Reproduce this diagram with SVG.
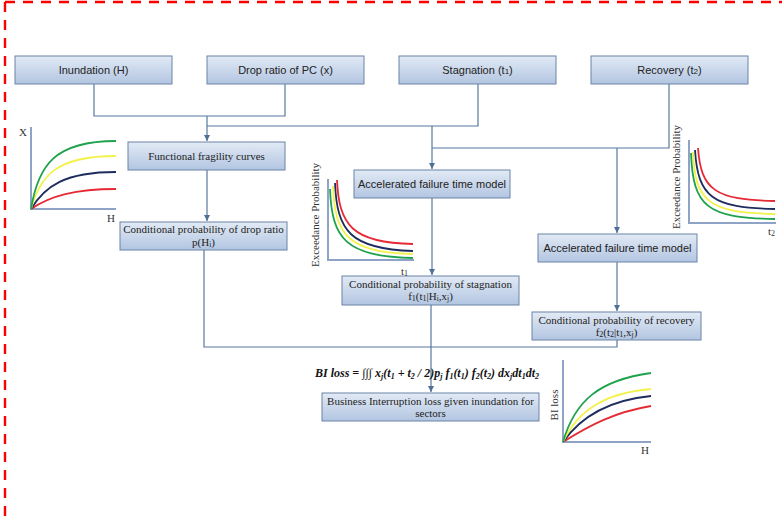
<svg xmlns="http://www.w3.org/2000/svg" width="782" height="524" viewBox="0 0 782 524">
<defs>
<linearGradient id="boxfill" x1="0" y1="0" x2="0" y2="1">
<stop offset="0" stop-color="#e2eaf5"/>
<stop offset="1" stop-color="#b2c5e1"/>
</linearGradient>
<marker id="arr" markerUnits="userSpaceOnUse" markerWidth="7" markerHeight="7" refX="6" refY="3" orient="auto">
<path d="M0,0 L6,3 L0,6 z" fill="#4f6f96"/>
</marker>
<style>
.box{fill:url(#boxfill);stroke:#6a84a6;stroke-width:1}
.sans{font-family:"Liberation Sans",Arial,sans-serif;font-size:11px;fill:#222;text-anchor:middle}
.serif{font-family:"Liberation Serif","Times New Roman",serif;font-size:11px;fill:#222;text-anchor:middle}
.conn{fill:none;stroke:#5878a0;stroke-width:1.2}
.axis{fill:none;stroke:#8ea3c6;stroke-width:2}
.cv{fill:none;stroke-width:1.8}
.g{stroke:#1fa24c}.y{stroke:#f2f24a}.n{stroke:#1e2c5e}.r{stroke:#e52a35}
.lbl{font-family:"Liberation Serif","Times New Roman",serif;font-size:11px;fill:#333}
</style>
</defs>
<rect width="782" height="524" fill="#fff"/>
<path d="M5,2 H782 M5,2 V522" fill="none" stroke="#ff0000" stroke-width="2.4" stroke-dasharray="10,8"/>

<g id="connectors">
<path class="conn" d="M94,84 V116 H207"/>
<path class="conn" d="M285,84 V116 H207"/>
<path class="conn" d="M207,116 V141" marker-end="url(#arr)"/>
<path class="conn" d="M478,84 V126 H207"/>
<path class="conn" d="M432,126 V169" marker-end="url(#arr)"/>
<path class="conn" d="M669,84 V148 H432"/>
<path class="conn" d="M617,148 V233" marker-end="url(#arr)"/>
<path class="conn" d="M207,170 V221" marker-end="url(#arr)"/>
<path class="conn" d="M432,198 V275" marker-end="url(#arr)"/>
<path class="conn" d="M617,262 V311" marker-end="url(#arr)"/>
<path class="conn" d="M204,250 V347 H617 V340"/>
<path class="conn" d="M431,305 V392" marker-end="url(#arr)"/>
</g>

<g id="inundation">
<rect class="box" x="15" y="56" width="157" height="28"/>
<text class="sans" x="93.5" y="74">Inundation (H)</text>
</g>
<g id="drop-ratio">
<rect class="box" x="207" y="56" width="157" height="28"/>
<text class="sans" x="285.5" y="74">Drop ratio of PC (x)</text>
</g>
<g id="stagnation">
<rect class="box" x="399" y="56" width="157" height="28"/>
<text class="sans" x="477.5" y="74">Stagnation (t<tspan font-size="8">1</tspan>)</text>
</g>
<g id="recovery">
<rect class="box" x="591" y="56" width="157" height="28"/>
<text class="sans" x="669.5" y="74">Recovery (t<tspan font-size="8">2</tspan>)</text>
</g>

<g id="functional-fragility">
<rect class="box" x="128" y="142" width="157" height="28"/>
<text class="serif" x="206.5" y="160">Functional fragility curves</text>
</g>
<g id="aft1">
<rect class="box" x="354" y="170" width="156" height="28"/>
<text class="sans" x="432" y="188" font-size="10.5">Accelerated failure time model</text>
</g>
<g id="aft2">
<rect class="box" x="538" y="234" width="159" height="28"/>
<text class="sans" x="617.5" y="252" font-size="10.5">Accelerated failure time model</text>
</g>
<g id="cond-drop">
<rect class="box" x="120" y="222" width="167" height="28"/>
<text class="serif" x="203.5" y="233">Conditional probability of drop ratio</text>
<text class="serif" x="203.5" y="246">p(H<tspan font-size="7.5" dy="1">i</tspan><tspan dy="-1">)</tspan></text>
</g>
<g id="cond-stagnation">
<rect class="box" x="342" y="276" width="177" height="29"/>
<text class="serif" x="430.5" y="288">Conditional probability of stagnation</text>
<text class="serif" x="430.5" y="300">f<tspan font-size="8" dy="1">1</tspan><tspan dy="-1">(t</tspan><tspan font-size="8" dy="1">1</tspan><tspan dy="-1">|H</tspan><tspan font-size="7.5" dy="1">i</tspan><tspan dy="-1">,x</tspan><tspan font-size="7.5" dy="1">j</tspan><tspan dy="-1">)</tspan></text>
</g>
<g id="cond-recovery">
<rect class="box" x="532" y="312" width="169" height="28"/>
<text class="serif" x="616.5" y="324">Conditional probability of recovery</text>
<text class="serif" x="616.5" y="336">f<tspan font-size="8" dy="1">2</tspan><tspan dy="-1">(t</tspan><tspan font-size="8" dy="1">2</tspan><tspan dy="-1">|t</tspan><tspan font-size="8" dy="1">1</tspan><tspan dy="-1">,x</tspan><tspan font-size="7.5" dy="1">j</tspan><tspan dy="-1">)</tspan></text>
</g>
<g id="bi-loss">
<rect class="box" x="322" y="393" width="217" height="28"/>
<text class="serif" x="430.5" y="405">Business Interruption loss given inundation for</text>
<text class="serif" x="430.5" y="417">sectors</text>
</g>

<g id="formula">
<text x="315" y="377" font-family="'Liberation Serif','Times New Roman',serif" font-size="12" font-weight="bold" font-style="italic" fill="#111">BI loss = ∫∫∫ x<tspan font-size="8" dy="2">j</tspan><tspan dy="-2">(t</tspan><tspan font-size="8" dy="2">1</tspan><tspan dy="-2"> + t</tspan><tspan font-size="8" dy="2">2</tspan><tspan dy="-2"> / 2)p</tspan><tspan font-size="8" dy="2">j</tspan><tspan dy="-2"> f</tspan><tspan font-size="8" dy="2">1</tspan><tspan dy="-2">(t</tspan><tspan font-size="8" dy="2">1</tspan><tspan dy="-2">) f</tspan><tspan font-size="8" dy="2">2</tspan><tspan dy="-2">(t</tspan><tspan font-size="8" dy="2">2</tspan><tspan dy="-2">) dx</tspan><tspan font-size="8" dy="2">j</tspan><tspan dy="-2">dt</tspan><tspan font-size="8" dy="2">1</tspan><tspan dy="-2">dt</tspan><tspan font-size="8" dy="2">2</tspan></text>
</g>

<g id="chart-fragility">
<path class="axis" d="M31,127 V209 H116"/>
<path class="cv r" d="M31,209 C50,196 75,189 116,189"/>
<path class="cv n" d="M31,209 C45,186 65,172 116,172"/>
<path class="cv y" d="M31,209 C40,176 56,156 116,156"/>
<path class="cv g" d="M31,209 C38,166 54,141 116,141"/>
<text class="lbl" x="19" y="136">X</text>
<text class="lbl" x="107" y="222">H</text>
</g>

<g id="chart-stagnation">
<path class="axis" d="M328,179 V260 H414"/>
<path class="cv r" d="M337,180 C339,225 352,243 413,244"/>
<path class="cv n" d="M335,183 C337,231 350,249 413,251"/>
<path class="cv y" d="M333,186 C335,236 348,252 413,254"/>
<path class="cv g" d="M330,189 C332,240 346,256 413,258"/>
<text class="lbl" x="0" y="0" text-anchor="middle" transform="translate(319,215) rotate(-90)">Exceedance Probability</text>
<text class="lbl" x="401" y="275">t<tspan font-size="8" dy="1">1</tspan></text>
</g>

<g id="chart-recovery">
<path class="axis" d="M689,140 V223 H776"/>
<path class="cv r" d="M698,148 C701,190 715,200 775,201"/>
<path class="cv n" d="M695,150 C698,197 712,208 775,209"/>
<path class="cv y" d="M693,152 C695,202 709,213 775,214"/>
<path class="cv g" d="M691,153 C693,207 707,218 775,219"/>
<text class="lbl" x="0" y="0" text-anchor="middle" transform="translate(680,177) rotate(-90)">Exceedance Probability</text>
<text class="lbl" x="768" y="235">t<tspan font-size="8" dy="1">2</tspan></text>
</g>

<g id="chart-bi">
<path class="axis" d="M563,360 V442 H651"/>
<path class="cv r" d="M563,442 C590,425 615,412 651,406"/>
<path class="cv n" d="M563,442 C582,415 610,400 651,396"/>
<path class="cv y" d="M563,442 C578,410 605,393 651,389"/>
<path class="cv g" d="M563,442 C575,400 600,380 651,373"/>
<text class="lbl" x="0" y="0" text-anchor="middle" transform="translate(558,405) rotate(-90)">BI loss</text>
<text class="lbl" x="641" y="454">H</text>
</g>
</svg>
